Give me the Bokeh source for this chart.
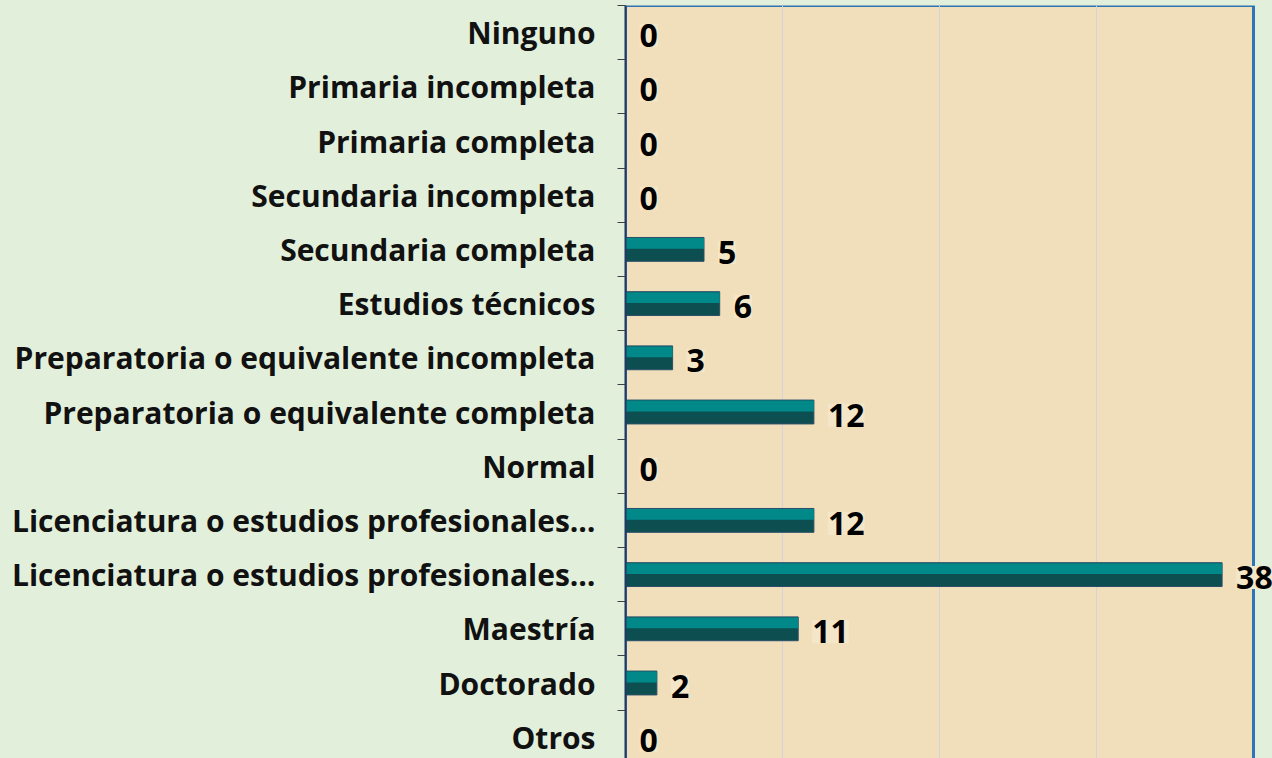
from bokeh.plotting import figure
from bokeh.models import (Range1d, FixedTicker, LinearAxis, ColumnDataSource, LabelSet,
                          BoxAnnotation, GlobalInlineStyleSheet)
from bokeh.core.properties import value
from bokeh.embed import file_html
from bokeh.resources import INLINE

categories = [
    "Ninguno",
    "Primaria incompleta",
    "Primaria completa",
    "Secundaria incompleta",
    "Secundaria completa",
    "Estudios técnicos",
    "Preparatoria o equivalente incompleta",
    "Preparatoria o equivalente completa",
    "Normal",
    "Licenciatura o estudios profesionales…",
    "Licenciatura o estudios profesionales…",
    "Maestría",
    "Doctorado",
    "Otros",
]
values = [0, 0, 0, 0, 5, 6, 3, 12, 0, 12, 38, 11, 2, 0]
x_max = 40
grid_ticks = [10, 20, 30]

idx = list(range(len(categories)))
label_src = ColumnDataSource(dict(y=idx, x=values, t=[str(v) for v in values]))
nz = [i for i in idx if values[i] > 0]
bar_src = ColumnDataSource(dict(
    y=[idx[i] for i in nz],
    yt=[idx[i] - 0.11 for i in nz],
    r=[values[i] for i in nz],
))

FONT = "Open Sans"
GREEN = "#e2efda"
W, H = 1272, 758
frame_left, plot_right = 625, 1253
px_per_cat = 54.2
top = -0.5
bottom = top + (H - 5) / px_per_cat
x_end = x_max * (W - frame_left) / (plot_right - frame_left)

p = figure(width=W, height=H, output_backend="svg", toolbar_location=None,
           x_range=Range1d(0, x_end), y_range=Range1d(bottom, top),
           min_border_left=frame_left, min_border_right=0, min_border_top=5, min_border_bottom=0,
           y_axis_location=None)
p.background_fill_color = GREEN
p.border_fill_color = GREEN
p.outline_line_color = None
p.xaxis.visible = False
p.ygrid.visible = False
p.xgrid.ticker = FixedTicker(ticks=grid_ticks)
p.xgrid.grid_line_color = "#d2d4d8"
p.xgrid.grid_line_width = 1

plot_area = BoxAnnotation(left=0, right=x_max, top=top, bottom=bottom + 0.5,
                          fill_color="#f0dfba", fill_alpha=1.0,
                          line_color="#2e75b6", line_alpha=1.0, line_width=3, level="image")
p.add_layout(plot_area)

yaxis = LinearAxis(
    ticker=FixedTicker(ticks=idx, minor_ticks=[i - 0.5 for i in range(len(categories) + 1)]),
    major_label_overrides={i: c for i, c in enumerate(categories)},
    major_tick_out=0, major_tick_in=0,
    minor_tick_out=8, minor_tick_in=0,
    minor_tick_line_color="#404040", minor_tick_line_width=1,
    axis_line_color="#1f3864", axis_line_width=2,
    major_label_standoff=22,
    major_label_text_font=FONT, major_label_text_font_style="bold",
    major_label_text_font_size="30px", major_label_text_color="#111111",
)
p.add_layout(yaxis, "left")

p.hbar(y="y", left=0, right="r", height=0.44, source=bar_src,
       fill_color="#0d4f50", line_color="#2c4f6a", line_width=1)
p.hbar(y="yt", left=0, right="r", height=0.2, source=bar_src,
       fill_color="#01898a", line_color=None)

labels = LabelSet(x="x", y="y", text="t", source=label_src, x_offset=14, y_offset=-3,
                  text_baseline="middle", text_align="left",
                  text_font=value(FONT), text_font_style="bold", text_font_size="32px",
                  text_color="#000000", background_fill_color="#f4e6c8")
p.add_layout(labels)

p.stylesheets = [GlobalInlineStyleSheet(css="html,body{background:#e2efda;margin:0;overflow:hidden;}")]

open("out.html", "w").write(file_html(p, INLINE))
